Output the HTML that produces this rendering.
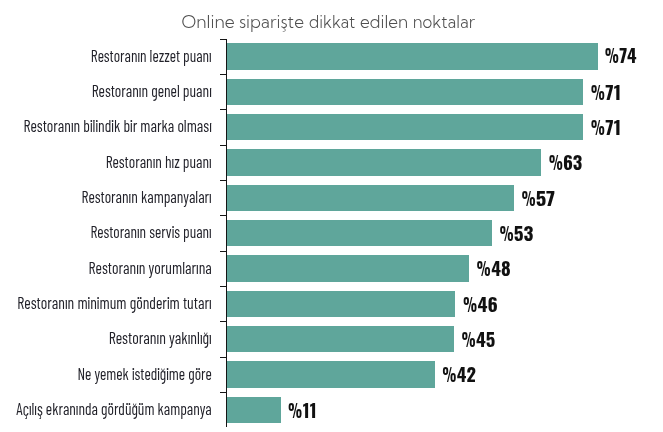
<!DOCTYPE html>
<html lang="tr"><head><meta charset="utf-8"><title>Online siparişte dikkat edilen noktalar</title>
<style>
html,body{margin:0;padding:0;background:#fff;}
body{width:663px;height:432px;overflow:hidden;}
svg{display:block;will-change:transform;}
.title{font-family:"Kumbh Sans","Liberation Sans",sans-serif;font-weight:300;font-size:17.6px;fill:#505050;}
.lab{font-family:"Barlow Condensed","Liberation Sans",sans-serif;font-weight:400;font-size:17.0px;fill:#22222a;}
.val{font-family:"Oswald","Liberation Sans",sans-serif;font-weight:700;font-size:17.9px;fill:#111;}
.pct{font-weight:700;}
</style></head>
<body>
<svg width="663" height="432" viewBox="0 0 663 432">
<rect x="227" y="43" width="371" height="27" fill="#5fa69b"/>
<rect x="227" y="79" width="356" height="26" fill="#5fa69b"/>
<rect x="227" y="114" width="356" height="26" fill="#5fa69b"/>
<rect x="227" y="149" width="314" height="27" fill="#5fa69b"/>
<rect x="227" y="185" width="287" height="26" fill="#5fa69b"/>
<rect x="227" y="220" width="265" height="26" fill="#5fa69b"/>
<rect x="227" y="255" width="242" height="27" fill="#5fa69b"/>
<rect x="227" y="291" width="228" height="26" fill="#5fa69b"/>
<rect x="227" y="326" width="227" height="26" fill="#5fa69b"/>
<rect x="227" y="361" width="208" height="27" fill="#5fa69b"/>
<rect x="227" y="397" width="54" height="26" fill="#5fa69b"/>
<rect x="226" y="39" width="1" height="388" fill="#151515"/>
<rect x="220" y="39" width="6" height="1" fill="#151515"/>
<rect x="220" y="74" width="6" height="1" fill="#151515"/>
<rect x="220" y="109" width="6" height="1" fill="#151515"/>
<rect x="220" y="145" width="6" height="1" fill="#151515"/>
<rect x="220" y="180" width="6" height="1" fill="#151515"/>
<rect x="220" y="215" width="6" height="1" fill="#151515"/>
<rect x="220" y="251" width="6" height="1" fill="#151515"/>
<rect x="220" y="286" width="6" height="1" fill="#151515"/>
<rect x="220" y="321" width="6" height="1" fill="#151515"/>
<rect x="220" y="357" width="6" height="1" fill="#151515"/>
<rect x="220" y="392" width="6" height="1" fill="#151515"/>
<text class="title" y="27.8"><tspan x="181.52" textLength="53.09" lengthAdjust="spacingAndGlyphs">Online</tspan> <tspan x="238.89" textLength="65.05" lengthAdjust="spacingAndGlyphs">siparişte</tspan> <tspan x="308.90" textLength="46.40" lengthAdjust="spacingAndGlyphs">dikkat</tspan> <tspan x="360.01" textLength="48.10" lengthAdjust="spacingAndGlyphs">edilen</tspan> <tspan x="412.75" textLength="62.20" lengthAdjust="spacingAndGlyphs">noktalar</tspan></text>
<text class="lab" x="90.84" y="62" textLength="120.82" lengthAdjust="spacingAndGlyphs">Restoranın lezzet puanı</text>
<text class="lab" x="91.68" y="97" textLength="120.11" lengthAdjust="spacingAndGlyphs">Restoranın genel puanı</text>
<text class="lab" x="23.57" y="132" textLength="188.21" lengthAdjust="spacingAndGlyphs">Restoranın bilindik bir marka olması</text>
<text class="lab" x="105.65" y="168" textLength="106.03" lengthAdjust="spacingAndGlyphs">Restoranın hız puanı</text>
<text class="lab" x="81.52" y="203" textLength="130.24" lengthAdjust="spacingAndGlyphs">Restoranın kampanyaları</text>
<text class="lab" x="90.39" y="238" textLength="121.31" lengthAdjust="spacingAndGlyphs">Restoranın servis puanı</text>
<text class="lab" x="88.62" y="274" textLength="123.25" lengthAdjust="spacingAndGlyphs">Restoranın yorumlarına</text>
<text class="lab" x="17.33" y="309" textLength="194.36" lengthAdjust="spacingAndGlyphs">Restoranın minimum gönderim tutarı</text>
<text class="lab" x="108.64" y="344" textLength="103.16" lengthAdjust="spacingAndGlyphs">Restoranın yakınlığı</text>
<text class="lab" x="77.41" y="380" textLength="134.37" lengthAdjust="spacingAndGlyphs">Ne yemek istediğime göre</text>
<text class="lab" x="16.37" y="415" textLength="195.40" lengthAdjust="spacingAndGlyphs">Açılış ekranında gördüğüm kampanya</text>
<text class="val" y="63"><tspan class="pct" x="604.68" textLength="14.20" lengthAdjust="spacingAndGlyphs">%</tspan><tspan class="num" x="619.36" textLength="17.16" lengthAdjust="spacingAndGlyphs">74</tspan></text>
<text class="val" y="100"><tspan class="pct" x="590.68" textLength="14.20" lengthAdjust="spacingAndGlyphs">%</tspan><tspan class="num" x="605.33" textLength="15.73" lengthAdjust="spacingAndGlyphs">71</tspan></text>
<text class="val" y="135"><tspan class="pct" x="590.68" textLength="14.20" lengthAdjust="spacingAndGlyphs">%</tspan><tspan class="num" x="605.33" textLength="15.73" lengthAdjust="spacingAndGlyphs">71</tspan></text>
<text class="val" y="170"><tspan class="pct" x="548.78" textLength="14.20" lengthAdjust="spacingAndGlyphs">%</tspan><tspan class="num" x="562.97" textLength="19.37" lengthAdjust="spacingAndGlyphs">63</tspan></text>
<text class="val" y="206"><tspan class="pct" x="521.58" textLength="14.20" lengthAdjust="spacingAndGlyphs">%</tspan><tspan class="num" x="535.83" textLength="19.26" lengthAdjust="spacingAndGlyphs">57</tspan></text>
<text class="val" y="241"><tspan class="pct" x="499.58" textLength="14.20" lengthAdjust="spacingAndGlyphs">%</tspan><tspan class="num" x="513.73" textLength="19.66" lengthAdjust="spacingAndGlyphs">53</tspan></text>
<text class="val" y="276"><tspan class="pct" x="476.58" textLength="14.20" lengthAdjust="spacingAndGlyphs">%</tspan><tspan class="num" x="491.35" textLength="19.39" lengthAdjust="spacingAndGlyphs">48</tspan></text>
<text class="val" y="312"><tspan class="pct" x="462.98" textLength="14.20" lengthAdjust="spacingAndGlyphs">%</tspan><tspan class="num" x="477.60" textLength="20.27" lengthAdjust="spacingAndGlyphs">46</tspan></text>
<text class="val" y="347"><tspan class="pct" x="461.48" textLength="14.20" lengthAdjust="spacingAndGlyphs">%</tspan><tspan class="num" x="476.02" textLength="19.26" lengthAdjust="spacingAndGlyphs">45</tspan></text>
<text class="val" y="382"><tspan class="pct" x="442.28" textLength="14.20" lengthAdjust="spacingAndGlyphs">%</tspan><tspan class="num" x="456.89" textLength="19.02" lengthAdjust="spacingAndGlyphs">42</tspan></text>
<text class="val" y="418"><tspan class="pct" x="287.98" textLength="14.20" lengthAdjust="spacingAndGlyphs">%</tspan><tspan class="num" x="302.77" textLength="13.74" lengthAdjust="spacingAndGlyphs">11</tspan></text>
</svg>
</body></html>
